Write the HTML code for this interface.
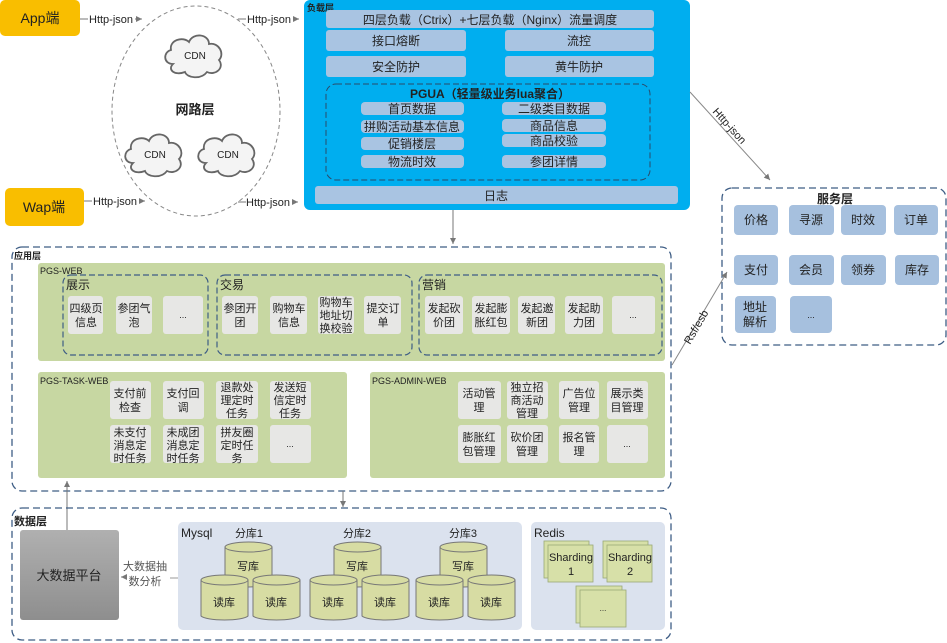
<!DOCTYPE html>
<html><head><meta charset="utf-8">
<style>
html,body{margin:0;padding:0;background:#fff;width:947px;height:643px;overflow:hidden}
svg{display:block}
text{font-family:"Liberation Sans","Noto Sans CJK SC",sans-serif;fill:#222}
</style></head>
<body>
<svg width="947" height="643" viewBox="0 0 947 643" xmlns="http://www.w3.org/2000/svg">
<defs>
<marker id="ar" markerWidth="8" markerHeight="8" refX="6" refY="3" orient="auto"><path d="M0,0 L6,3 L0,6z" fill="#777"/></marker>
<linearGradient id="gy" x1="0" y1="0" x2="0" y2="1"><stop offset="0" stop-color="#b0b0b0"/><stop offset="1" stop-color="#8e8e8e"/></linearGradient>
<g id="cloud"><path d="M-22,8 C-32,8 -32,-4 -24,-6 C-26,-16 -12,-20 -6,-14 C-2,-24 14,-22 14,-12 C24,-14 30,-2 24,4 C30,12 20,20 12,16 C6,24 -8,22 -10,16 C-20,20 -28,14 -22,8z" fill="#f4f4f4" stroke="#666" stroke-width="1.8"/></g>
</defs>

<!-- App / Wap -->
<rect x="0" y="0" width="80" height="36" rx="5" fill="#f9be00"/>
<text x="40" y="23" font-size="14" text-anchor="middle">App端</text>
<rect x="5" y="188" width="79" height="38" rx="5" fill="#f9be00"/>
<text x="44" y="212" font-size="14" text-anchor="middle">Wap端</text>

<!-- network ellipse -->
<ellipse cx="196" cy="111" rx="84" ry="105" fill="none" stroke="#888" stroke-dasharray="4,3"/>
<use href="#cloud" x="195" y="56"/>
<text x="195" y="59" font-size="10" text-anchor="middle">CDN</text>
<use href="#cloud" x="155" y="155"/>
<text x="155" y="158" font-size="10" text-anchor="middle">CDN</text>
<use href="#cloud" x="228" y="155"/>
<text x="228" y="158" font-size="10" text-anchor="middle">CDN</text>
<text x="195" y="114" font-size="13" font-weight="bold" text-anchor="middle">网路层</text>

<g font-size="11">
<line x1="80" y1="19" x2="88" y2="19" stroke="#777"/>
<text x="89" y="23">Http-json</text><line x1="135" y1="19" x2="142" y2="19" stroke="#777" marker-end="url(#ar)"/>
<line x1="238" y1="19" x2="246" y2="19" stroke="#777"/>
<text x="247" y="23">Http-json</text><line x1="293" y1="19" x2="299" y2="19" stroke="#777" marker-end="url(#ar)"/>
<line x1="84" y1="201" x2="92" y2="201" stroke="#777"/>
<text x="93" y="205">Http-json</text><line x1="139" y1="201" x2="145" y2="201" stroke="#777" marker-end="url(#ar)"/>
<line x1="238" y1="202" x2="246" y2="202" stroke="#777"/>
<text x="246" y="206">Http-json</text><line x1="292" y1="202" x2="298" y2="202" stroke="#777" marker-end="url(#ar)"/>
</g>

<!-- Blue load layer -->
<rect x="304" y="0" width="386" height="210" rx="6" fill="#00aeef"/>
<text x="307" y="11" font-size="9" font-weight="bold">负载层</text>
<g fill="#a9c4e2">
<rect x="326" y="10" width="328" height="18" rx="3"/>
<rect x="326" y="30" width="140" height="21" rx="3"/>
<rect x="505" y="30" width="149" height="21" rx="3"/>
<rect x="326" y="56" width="140" height="21" rx="3"/>
<rect x="505" y="56" width="149" height="21" rx="3"/>
<rect x="315" y="186" width="363" height="18" rx="3"/>
<rect x="361" y="102" width="103" height="13" rx="4"/>
<rect x="361" y="120" width="103" height="13" rx="4"/>
<rect x="361" y="137" width="103" height="13" rx="4"/>
<rect x="361" y="155" width="103" height="13" rx="4"/>
<rect x="502" y="102" width="104" height="13" rx="4"/>
<rect x="502" y="119" width="104" height="13" rx="4"/>
<rect x="502" y="134" width="104" height="13" rx="4"/>
<rect x="502" y="155" width="104" height="13" rx="4"/>
</g>
<rect x="326" y="84" width="324" height="96" rx="10" fill="none" stroke="#2a4a6a" stroke-dasharray="6,3"/>
<g font-size="12" text-anchor="middle">
<text x="490" y="24">四层负载（Ctrix）+七层负载（Nginx）流量调度</text>
<text x="396" y="45">接口熔断</text><text x="579" y="45">流控</text>
<text x="396" y="71">安全防护</text><text x="579" y="71">黄牛防护</text>
<text x="496" y="200">日志</text>
<text x="490" y="98" font-weight="bold">PGUA（轻量级业务lua聚合）</text>
<text x="412" y="113">首页数据</text><text x="412" y="131">拼购活动基本信息</text>
<text x="412" y="148">促销楼层</text><text x="412" y="166">物流时效</text>
<text x="554" y="113">二级类目数据</text><text x="554" y="130">商品信息</text>
<text x="554" y="145">商品校验</text><text x="554" y="166">参团详情</text>
</g>
<line x1="453" y1="210" x2="453" y2="244" stroke="#777" marker-end="url(#ar)"/>

<!-- Http-json diagonal -->
<line x1="690" y1="92" x2="770" y2="180" stroke="#888" marker-end="url(#ar)"/>
<text x="0" y="0" font-size="11" transform="translate(712,112) rotate(48)">Http-json</text>

<!-- Service layer -->
<rect x="722" y="188" width="224" height="157" rx="10" fill="none" stroke="#3e5d85" stroke-dasharray="7,4" stroke-width="1.3"/>
<text x="835" y="203" font-size="12" font-weight="bold" text-anchor="middle">服务层</text>
<g fill="#a6c0de">
<rect x="734" y="205" width="44" height="30" rx="4"/><rect x="789" y="205" width="45" height="30" rx="4"/><rect x="841" y="205" width="45" height="30" rx="4"/><rect x="894" y="205" width="44" height="30" rx="4"/>
<rect x="734" y="255" width="44" height="30" rx="4"/><rect x="789" y="255" width="45" height="30" rx="4"/><rect x="841" y="255" width="45" height="30" rx="4"/><rect x="895" y="255" width="44" height="30" rx="4"/>
<rect x="735" y="296" width="41" height="37" rx="4"/><rect x="790" y="296" width="42" height="37" rx="4"/>
</g>
<g font-size="12" text-anchor="middle">
<text x="756" y="224">价格</text><text x="811" y="224">寻源</text><text x="863" y="224">时效</text><text x="916" y="224">订单</text>
<text x="756" y="274">支付</text><text x="811" y="274">会员</text><text x="863" y="274">领券</text><text x="917" y="274">库存</text>
<text x="755" y="311">地址</text><text x="755" y="326">解析</text><text x="811" y="318" font-size="9">...</text>
</g>

<!-- Rsf/esb -->
<line x1="672" y1="365" x2="727" y2="272" stroke="#888" marker-end="url(#ar)"/>
<text x="0" y="0" font-size="11" transform="translate(690,345) rotate(-60)">Rsf/esb</text>

<!-- App layer -->
<rect x="12" y="247" width="659" height="244" rx="10" fill="none" stroke="#3e5d85" stroke-dasharray="7,4" stroke-width="1.3"/>
<text x="14" y="259" font-size="9" font-weight="bold">应用层</text>
<rect x="38" y="263" width="627" height="98" rx="3" fill="#c7d7a2"/>
<text x="40" y="274" font-size="9">PGS-WEB</text>
<g fill="none" stroke="#3e5d85" stroke-dasharray="6,3" stroke-width="1.2">
<rect x="63" y="275" width="145" height="80" rx="8"/>
<rect x="217" y="275" width="195" height="80" rx="8"/>
<rect x="419" y="275" width="243" height="80" rx="8"/>
</g>
<g font-size="12"><text x="66" y="289">展示</text><text x="220" y="289">交易</text><text x="422" y="289">营销</text></g>
<g fill="#e7e7e5">
<rect x="68" y="296" width="35" height="38" rx="3"/><rect x="116" y="296" width="36" height="38" rx="3"/><rect x="163" y="296" width="40" height="38" rx="3"/>
<rect x="222" y="296" width="36" height="38" rx="3"/><rect x="270" y="296" width="37" height="38" rx="3"/><rect x="318" y="296" width="36" height="38" rx="3"/><rect x="364" y="296" width="37" height="38" rx="3"/>
<rect x="425" y="296" width="38" height="38" rx="3"/><rect x="472" y="296" width="38" height="38" rx="3"/><rect x="518" y="296" width="37" height="38" rx="3"/><rect x="565" y="296" width="38" height="38" rx="3"/><rect x="612" y="296" width="43" height="38" rx="3"/>
</g>
<g font-size="11" text-anchor="middle">
<text x="86" y="312">四级页</text><text x="86" y="326">信息</text>
<text x="134" y="312">参团气</text><text x="134" y="326">泡</text>
<text x="183" y="318" font-size="9">...</text>
<text x="240" y="312">参团开</text><text x="240" y="326">团</text>
<text x="289" y="312">购物车</text><text x="289" y="326">信息</text>
<text x="336" y="306">购物车</text><text x="336" y="319">地址切</text><text x="336" y="332">换校验</text>
<text x="383" y="312">提交订</text><text x="383" y="326">单</text>
<text x="444" y="312">发起砍</text><text x="444" y="326">价团</text>
<text x="491" y="312">发起膨</text><text x="491" y="326">胀红包</text>
<text x="537" y="312">发起邀</text><text x="537" y="326">新团</text>
<text x="584" y="312">发起助</text><text x="584" y="326">力团</text>
<text x="633" y="318" font-size="9">...</text>
</g>

<rect x="38" y="372" width="309" height="106" rx="3" fill="#c7d7a2"/>
<text x="40" y="384" font-size="9">PGS-TASK-WEB</text>
<rect x="370" y="372" width="295" height="106" rx="3" fill="#c7d7a2"/>
<text x="372" y="384" font-size="9">PGS-ADMIN-WEB</text>
<g fill="#e7e7e5">
<rect x="110" y="381" width="41" height="38" rx="3"/><rect x="163" y="381" width="41" height="38" rx="3"/><rect x="216" y="381" width="42" height="38" rx="3"/><rect x="270" y="381" width="41" height="38" rx="3"/>
<rect x="110" y="425" width="41" height="38" rx="3"/><rect x="163" y="425" width="41" height="38" rx="3"/><rect x="216" y="425" width="42" height="38" rx="3"/><rect x="270" y="425" width="41" height="38" rx="3"/>
<rect x="458" y="381" width="43" height="38" rx="3"/><rect x="507" y="381" width="41" height="38" rx="3"/><rect x="559" y="381" width="40" height="38" rx="3"/><rect x="607" y="381" width="41" height="38" rx="3"/>
<rect x="458" y="425" width="43" height="38" rx="3"/><rect x="507" y="425" width="41" height="38" rx="3"/><rect x="559" y="425" width="40" height="38" rx="3"/><rect x="607" y="425" width="41" height="38" rx="3"/>
</g>
<g font-size="11" text-anchor="middle">
<text x="130" y="397">支付前</text><text x="130" y="411">检查</text>
<text x="183" y="397">支付回</text><text x="183" y="411">调</text>
<text x="237" y="391">退款处</text><text x="237" y="404">理定时</text><text x="237" y="417">任务</text>
<text x="290" y="391">发送短</text><text x="290" y="404">信定时</text><text x="290" y="417">任务</text>
<text x="130" y="436">未支付</text><text x="130" y="449">消息定</text><text x="130" y="462">时任务</text>
<text x="183" y="436">未成团</text><text x="183" y="449">消息定</text><text x="183" y="462">时任务</text>
<text x="237" y="436">拼友圈</text><text x="237" y="449">定时任</text><text x="237" y="462">务</text>
<text x="290" y="447" font-size="9">...</text>
<text x="479" y="397">活动管</text><text x="479" y="411">理</text>
<text x="527" y="391">独立招</text><text x="527" y="404">商活动</text><text x="527" y="417">管理</text>
<text x="579" y="397">广告位</text><text x="579" y="411">管理</text>
<text x="627" y="397">展示类</text><text x="627" y="411">目管理</text>
<text x="479" y="441">膨胀红</text><text x="479" y="455">包管理</text>
<text x="527" y="441">砍价团</text><text x="527" y="455">管理</text>
<text x="579" y="441">报名管</text><text x="579" y="455">理</text>
<text x="627" y="447" font-size="9">...</text>
</g>

<line x1="343" y1="491" x2="343" y2="507" stroke="#777" marker-end="url(#ar)"/>
<line x1="67" y1="530" x2="67" y2="481" stroke="#777" marker-end="url(#ar)"/>

<!-- Data layer -->
<rect x="12" y="508" width="659" height="132" rx="10" fill="none" stroke="#3e5d85" stroke-dasharray="7,4" stroke-width="1.3"/>
<text x="14" y="525" font-size="11" font-weight="bold">数据层</text>
<rect x="20" y="530" width="99" height="90" rx="3" fill="url(#gy)"/>
<text x="69" y="580" font-size="13" text-anchor="middle">大数据平台</text>
<text x="145" y="570" font-size="11" fill="#555" text-anchor="middle" style="fill:#555">大数据抽</text>
<text x="145" y="585" font-size="11" text-anchor="middle" style="fill:#555">数分析</text>
<line x1="124" y1="577" x2="121" y2="577" stroke="#777" marker-end="url(#ar)"/>
<line x1="170" y1="578" x2="178" y2="578" stroke="#999"/>

<rect x="178" y="522" width="344" height="108" rx="5" fill="#dbe2ee"/>
<text x="181" y="537" font-size="12">Mysql</text>
<rect x="531" y="522" width="134" height="108" rx="5" fill="#dbe2ee"/>
<text x="534" y="537" font-size="12">Redis</text>
<g font-size="11" text-anchor="middle">
<text x="249" y="537">分库1</text><text x="357" y="537">分库2</text><text x="463" y="537">分库3</text>
</g>
<g fill="#d7dca3" stroke="#777" stroke-width="1">
<!-- write cylinders -->
<path d="M225,547 v36 a24,5 0 0 0 47,0 v-36"/><ellipse cx="248.5" cy="547" rx="23.5" ry="5"/>
<path d="M334,547 v36 a24,5 0 0 0 47,0 v-36"/><ellipse cx="357.5" cy="547" rx="23.5" ry="5"/>
<path d="M440,547 v36 a24,5 0 0 0 47,0 v-36"/><ellipse cx="463.5" cy="547" rx="23.5" ry="5"/>
<!-- read -->
<path d="M201,580 v36 a24,5 0 0 0 47,0 v-36"/><ellipse cx="224.5" cy="580" rx="23.5" ry="5"/>
<path d="M253,580 v36 a24,5 0 0 0 47,0 v-36"/><ellipse cx="276.5" cy="580" rx="23.5" ry="5"/>
<path d="M310,580 v36 a24,5 0 0 0 47,0 v-36"/><ellipse cx="333.5" cy="580" rx="23.5" ry="5"/>
<path d="M362,580 v36 a24,5 0 0 0 47,0 v-36"/><ellipse cx="385.5" cy="580" rx="23.5" ry="5"/>
<path d="M416,580 v36 a24,5 0 0 0 47,0 v-36"/><ellipse cx="439.5" cy="580" rx="23.5" ry="5"/>
<path d="M468,580 v36 a24,5 0 0 0 47,0 v-36"/><ellipse cx="491.5" cy="580" rx="23.5" ry="5"/>
</g>
<g font-size="11" text-anchor="middle">
<text x="248" y="570">写库</text><text x="357" y="570">写库</text><text x="463" y="570">写库</text>
<text x="224" y="606">读库</text><text x="276" y="606">读库</text><text x="333" y="606">读库</text><text x="385" y="606">读库</text><text x="439" y="606">读库</text><text x="491" y="606">读库</text>
</g>
<g fill="#d7e0a8" stroke="#9aa877" stroke-width="0.8">
<rect x="544" y="541" width="45" height="37"/><rect x="548" y="545" width="45" height="37"/>
<rect x="603" y="541" width="45" height="37"/><rect x="607" y="545" width="45" height="37"/>
<rect x="576" y="586" width="46" height="37"/><rect x="580" y="590" width="46" height="37"/>
</g>
<g font-size="11" text-anchor="middle">
<text x="571" y="561">Sharding</text><text x="571" y="575">1</text>
<text x="630" y="561">Sharding</text><text x="630" y="575">2</text>
<text x="603" y="611" font-size="8">...</text>
</g>
</svg>
</body></html>
